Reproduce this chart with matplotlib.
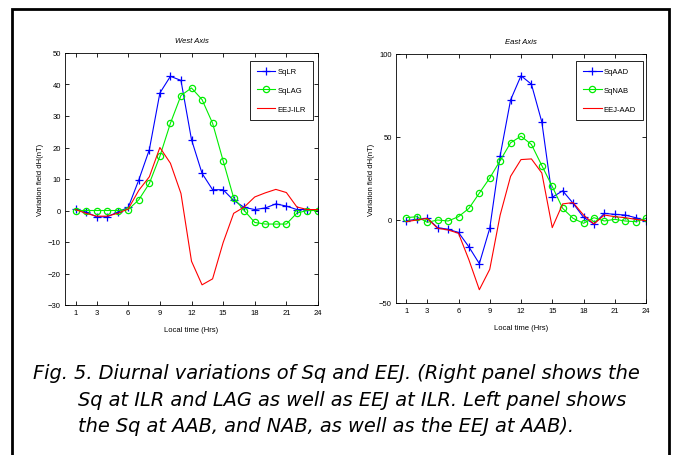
#!/usr/bin/env python3
# -*- coding: utf-8 -*-
"""
Fig. 5 - Sq 和 EEJ 的日变化 (两个面板)
"""
import matplotlib
matplotlib.use('Agg')
import matplotlib.pyplot as plt
from matplotlib.patches import Rectangle

# 数据: 地方时 1..24
hours = list(range(1, 25))
x_ticks = [1, 3, 6, 9, 12, 15, 18, 21, 24]

# 西轴
sq_ilr = [0.5, -0.5, -2, -2, -0.5, 1, 9.7, 19.3, 37.3, 42.6, 41.3, 22.5,
          11.8, 6.6, 6.6, 3.2, 1, 0.3, 0.8, 2.1, 1.4, 0.3, 0.3, 0.3]
sq_lag = [0, 0, 0, 0, 0, 0.3, 3.4, 8.6, 17.2, 27.7, 36.5, 38.9,
          35.2, 27.7, 15.8, 4, 0, -3.8, -4.3, -4.3, -4.3, -0.8, 0, 0]
eej_ilr = [0.3, -0.9, -1.8, -1.8, -0.9, 0.5, 6.4, 10.7, 20, 15, 5.4, -16.1,
           -23.6, -21.7, -10.2, -0.9, 1.1, 4.3, 5.6, 6.7, 5.7, 1.1, 0.3, 0.3]

# 东轴
sq_aad = [-0.4, 0.4, 1, -4.6, -5.6, -7.5, -16.2, -26.3, -5, 38.8, 72.3, 86.9,
          81.8, 59, 13.7, 17.6, 10.1, 1.6, -2.4, 4, 3.4, 3, 1.4, -0.4]
sq_nab = [1.4, 2, -1.4, 0, -0.6, 2, 7, 16.2, 25.3, 35.8, 46.5, 50.5,
          45.5, 32.8, 20.2, 7, 1, -2, 1.4, -0.6, 0.4, -0.6, -1, 1]
eej_aad = [-1, 0, 1, -5, -6, -8, -24, -42, -29.7, 3, 26.3, 36.4,
           36.8, 28.3, -4.6, 9.7, 10.5, 3, -2.4, 3, 2, 1.4, 0.4, -0.4]

TICK_FONT = ['Liberation Sans Narrow', 'Liberation Sans', 'DejaVu Sans']
plt.rcParams['font.family'] = TICK_FONT

W, H = 675, 456
fig = plt.figure(figsize=(W / 100, H / 100), dpi=100)

# 外框
fig.patches.append(Rectangle((12 / W, -0.02), (669 - 12) / W, 1 - 10 / H + 0.02,
                             transform=fig.transFigure, fill=False,
                             edgecolor='black', linewidth=2))


def make_panel(rect, title, series, ylim, yticks, legend_anchor):
    ax = fig.add_axes(rect)
    (b, g, r) = series
    ax.plot(hours, b[1], color='#0000ff', marker='+', markersize=6,
            markeredgewidth=0.9, linewidth=0.8, label=b[0])
    ax.plot(hours, g[1], color='#00ee00', marker='o', markersize=4.5,
            markerfacecolor='none', markeredgewidth=0.9, linewidth=0.8, label=g[0])
    ax.plot(hours, r[1], color='#ff0000', linewidth=0.8, label=r[0])
    ax.set_xlim(0, 24)
    ax.set_ylim(*ylim)
    ax.set_xticks(x_ticks)
    ax.set_yticks(yticks)
    ax.tick_params(direction='in', top=True, right=True, labelsize=5.5,
                   length=3, width=0.6, pad=3)
    for s in ax.spines.values():
        s.set_linewidth(0.6)
    ax.set_title(title, fontsize=5.5, style='italic', pad=8)
    ax.set_xlabel('Local time (Hrs)', fontsize=5.5, labelpad=7)
    ax.set_ylabel('Variation field dH(nT)', fontsize=5.5, labelpad=3)
    leg = ax.legend(loc='upper right', bbox_to_anchor=legend_anchor,
                    fontsize=5.5, fancybox=False, edgecolor='black',
                    framealpha=1, handlelength=2.4, borderpad=0.9,
                    labelspacing=1.5, handletextpad=0.3, borderaxespad=0)
    leg.get_frame().set_linewidth(0.6)
    return ax


make_panel([65 / W, 1 - 306 / H, 253 / W, 252 / H], 'West Axis',
           [('SqLR', sq_ilr), ('SqLAG', sq_lag), ('EEJ-ILR', eej_ilr)],
           (-30, 50), list(range(-30, 51, 10)), (0.98, 0.968))
make_panel([396 / W, 1 - 304 / H, 250 / W, 249 / H], 'East Axis',
           [('SqAAD', sq_aad), ('SqNAB', sq_nab), ('EEJ-AAD', eej_aad)],
           (-50, 100), [-50, 0, 50, 100], (0.988, 0.972))

# 图注
CAP_FONT = ['DejaVu Sans']
cap_lines = [
    (33, 374, 'Fig. 5. Diurnal variations of Sq and EEJ. (Right panel shows the'),
    (78, 401, 'Sq at ILR and LAG as well as EEJ at ILR. Left panel shows'),
    (78, 427, 'the Sq at AAB, and NAB, as well as the EEJ at AAB).'),
]
for x, y, s in cap_lines:
    fig.text(x / W, 1 - y / H, s, family=CAP_FONT, style='italic',
             fontsize=13.95, ha='left', va='center')

fig.savefig('out.png', dpi=100)
